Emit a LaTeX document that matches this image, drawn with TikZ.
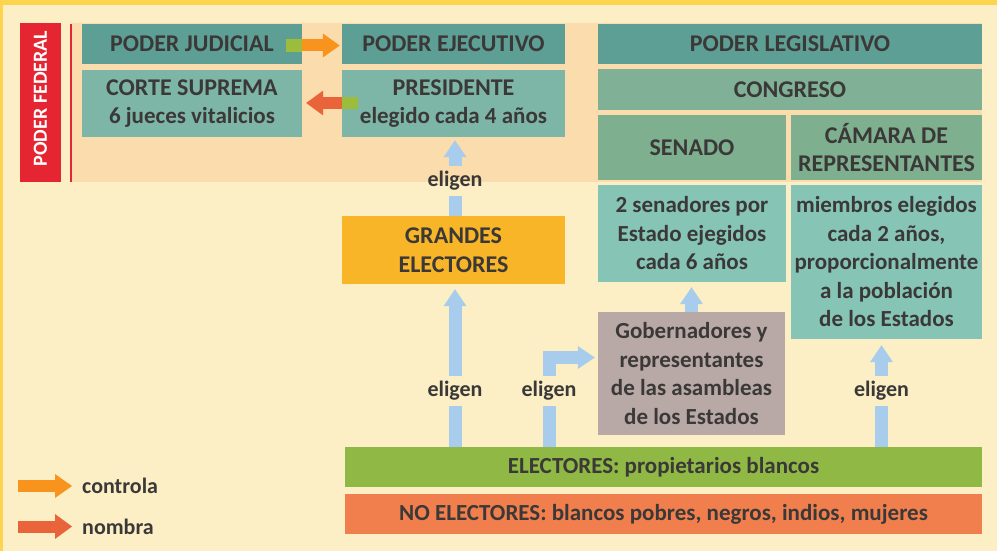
\documentclass[tikz,border=0pt]{standalone}
\usepackage{fontspec}
\setmainfont{Carlito}
\usetikzlibrary{arrows.meta,calc}
\definecolor{bgc}{HTML}{FCEFC5}
\definecolor{peach}{HTML}{FADCAD}
\definecolor{topyel}{HTML}{FCD44E}
\definecolor{fedred}{HTML}{E52531}
\definecolor{tdark}{HTML}{5E9F95}
\definecolor{tlight}{HTML}{7DB5A7}
\definecolor{gcong}{HTML}{80B196}
\definecolor{ghead}{HTML}{7EAF8E}
\definecolor{tbody}{HTML}{86C5B6}
\definecolor{gobc}{HTML}{B8A9A6}
\definecolor{grandc}{HTML}{F7B527}
\definecolor{elecc}{HTML}{8FB944}
\definecolor{noelecc}{HTML}{F17F4D}
\definecolor{ctrlc}{HTML}{F8941D}
\definecolor{nombc}{HTML}{E9643A}
\definecolor{sqc}{HTML}{9CBC3C}
\definecolor{bluec}{HTML}{A7CCEC}
\definecolor{txtc}{HTML}{3B3838}
\newcommand{\bxfont}{\fontsize{23}{28.5}\selectfont\bfseries}
\newcommand{\hdfont}{\fontsize{24}{28.5}\selectfont\bfseries}
\tikzset{
  box/.style={inner sep=0pt, text=txtc, align=center, font=\bxfont},
  hbox/.style={inner sep=0pt, text=txtc, align=center, font=\hdfont},
  lbl/.style={inner sep=0pt, text=txtc, font=\fontsize{22}{26}\selectfont\bfseries, minimum height=30pt},
  legtxt/.style={inner sep=0pt, text=txtc, font=\fontsize{22}{26}\selectfont\bfseries, anchor=west},
  sqbox/.style={inner sep=0pt, fill=sqc},
  blshaft/.style={draw=bluec, line width=13pt},
  blarrow/.style={draw=bluec, line width=13pt, -{Triangle[width=23pt,length=17pt,line width=0pt]}},
  ctrlarrow/.style={draw=ctrlc, line width=12pt, -{Triangle[width=24pt,length=17pt,line width=0pt]}},
  nombarrow/.style={draw=nombc, line width=12pt, -{Triangle[width=25pt,length=17pt,line width=0pt]}}
}
\begin{document}
\begin{tikzpicture}[x=1pt,y=-1pt]
\useasboundingbox (0,0) rectangle (997,551);
\fill[bgc] (0,0) rectangle (997,551);
\fill[topyel] (0,0) rectangle (997,5);
\fill[topyel] (0,0) rectangle (3,551);
\fill[peach] (72,23) rectangle (982,182);
\draw[fedred, line width=2pt] (71,24) -- (71,182);

\node[rotate=90, fill=fedred, text=white, inner sep=0pt, minimum width=159pt, minimum height=41pt, font=\fontsize{20}{24}\selectfont\bfseries] (fed) at (40.5,102.5) {\hspace*{8pt}PODER FEDERAL};

\node[hbox, fill=tdark, minimum width=220pt, minimum height=40pt] (jud) at (192,44) {PODER JUDICIAL};
\node[box, fill=tlight, minimum width=220pt, minimum height=67pt] (corte) at (192,103.5) {{\hdfont CORTE SUPREMA}\\6 jueces vitalicios};
\node[hbox, fill=tdark, minimum width=223pt, minimum height=40pt] (ejec) at (453.5,44) {PODER EJECUTIVO};
\node[box, fill=tlight, minimum width=223pt, minimum height=67pt] (pres) at (453.5,103.5) {{\hdfont PRESIDENTE}\\elegido cada 4 años};
\node[hbox, fill=tdark, minimum width=384pt, minimum height=40pt] (legis) at (790,44) {PODER LEGISLATIVO};
\node[hbox, fill=gcong, minimum width=384pt, minimum height=41pt] (cong) at (790,89.5) {CONGRESO};
\node[hbox, fill=ghead, minimum width=188pt, minimum height=65pt] (senh) at (692,147.5) {SENADO};
\node[hbox, fill=ghead, minimum width=191pt, minimum height=65pt] (camh) at (886.5,147.5) {CÁMARA DE\\REPRESENTANTES};
\node[box, fill=tbody, minimum width=188pt, minimum height=97pt] (senb) at (692,233.5) {2 senadores por\\Estado ejegidos\\cada 6 años};
\node[box, fill=tbody, minimum width=191pt, minimum height=154pt] (camb) at (886.5,262) {miembros elegidos\\cada 2 años,\\proporcionalmente\\a la población\\de los Estados};
\node[hbox, fill=grandc, minimum width=223pt, minimum height=68pt] (grand) at (453.5,250) {GRANDES\\ELECTORES};
\node[box, fill=gobc, minimum width=187pt, minimum height=123pt] (gob) at (691.5,373.5) {Gobernadores y\\representantes\\de las asambleas\\de los Estados};
\node[box, fill=elecc, minimum width=637pt, minimum height=40pt] (elec) at (663.5,467) {ELECTORES: propietarios blancos};
\node[box, fill=noelecc, minimum width=637pt, minimum height=40pt] (noelec) at (663.5,514) {NO ELECTORES: blancos pobres, negros, indios, mujeres};

% eligen labels
\node[lbl] (e1) at (455,181) {eligen};
\node[lbl] (e2) at (455,391) {eligen};
\node[lbl] (e3) at (549,391) {eligen};
\node[lbl] (e5) at (881.5,391) {eligen};

% blue arrows
\draw[blshaft] (e1 |- grand.north) -- (e1.south);
\draw[blarrow, shorten >=3pt] (e1.north) -- (e1.north |- pres.south);
\draw[blshaft] (e2 |- elec.north) -- (e2.south);
\draw[blarrow, shorten >=5pt] (e2.north) -- (e2.north |- grand.south);
\draw[blshaft] (e3 |- elec.north) -- (e3.south);
\draw[blarrow, shorten >=3pt] (e3.north) |- ([yshift=16pt]gob.west);
\draw[blarrow, shorten >=5pt] (gob.north) -- (gob.north |- senb.south);
\draw[blshaft] (e5 |- elec.north) -- (e5.south);
\draw[blarrow, shorten >=6pt] (e5.north) -- (e5.north |- camb.south);

% control / nombra arrows
\node[sqbox, minimum width=16pt, minimum height=13pt] (sq1) at (294,45.5) {};
\draw[ctrlarrow, shorten >=2pt] (sq1.east) -- (sq1.east -| ejec.west);
\node[sqbox, minimum width=16pt, minimum height=12pt] (sq2) at (350,103) {};
\draw[nombarrow, shorten >=4pt] (sq2.west) -- (sq2.west -| corte.east);

% legend
\coordinate (l1) at (18,486);
\node[legtxt] (lc) at (82,486) {controla};
\draw[ctrlarrow, shorten >=10pt] (l1) -- (lc.west);
\coordinate (l2) at (18,526.5);
\node[legtxt] (ln) at (82,526.5) {nombra};
\draw[nombarrow, shorten >=10pt] (l2) -- (ln.west);
\end{tikzpicture}
\end{document}
